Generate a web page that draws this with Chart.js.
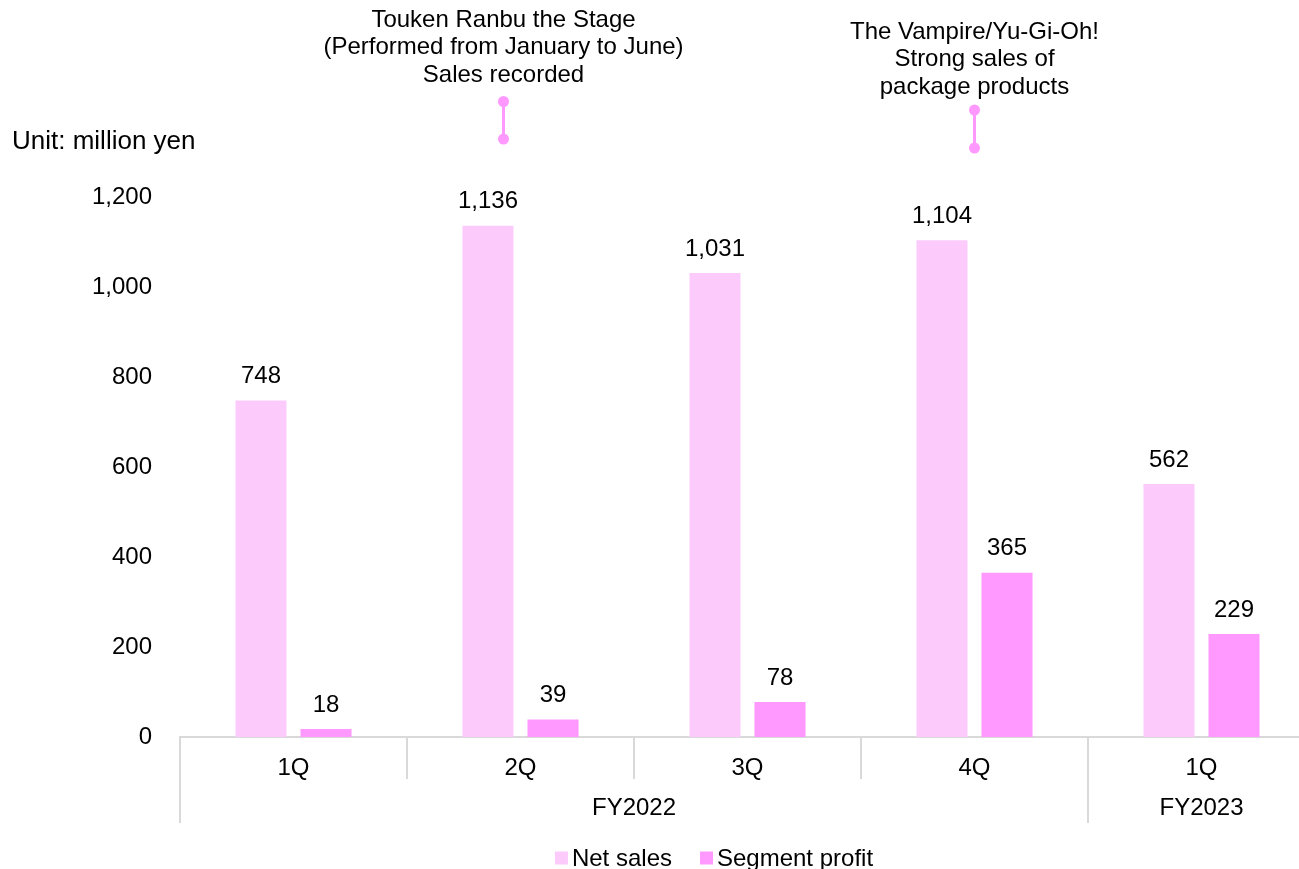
<!DOCTYPE html>
<html>
<head>
<meta charset="utf-8">
<script src="https://cdn.jsdelivr.net/npm/chart.js@4.4.1/dist/chart.umd.min.js"></script>
<style>
  html, body { margin: 0; padding: 0; background: #fff; overflow: hidden; }
  #wrap { width: 1315px; height: 869px; }
</style>
</head>
<body>
<div id="wrap"><canvas id="segChart" width="1315" height="869"></canvas></div>
<script>
// --- data ---
const quarters      = ['1Q', '2Q', '3Q', '4Q', '1Q'];
const fiscalYears   = ['FY2022', 'FY2022', 'FY2022', 'FY2022', 'FY2023'];
const netSales      = [748, 1136, 1031, 1104, 562];
const segmentProfit = [18, 39, 78, 365, 229];
const yTickValues   = [0, 200, 400, 600, 800, 1000, 1200];
const unitLabel     = 'Unit: million yen';
const noteTouken    = ['Touken Ranbu the Stage', '(Performed from January to June)', 'Sales recorded'];
const noteVampire   = ['The Vampire/Yu-Gi-Oh!', 'Strong sales of', 'package products'];

const FONT = '"Liberation Sans", Arial, sans-serif';
const TXT = '#000000';
const LINE = '#d9d9d9';
const PINK_LIGHT = '#fccbfc';
const PINK = '#ff99ff';

// Draws value labels, the grouped fiscal-year axis, notes and the legend
const decorations = {
  id: 'decorations',
  afterDraw(chart) {
    const { ctx, chartArea, scales } = chart;
    const x = scales.x;
    const bottom = chartArea.bottom;
    ctx.save();
    ctx.font = `24px ${FONT}`;
    ctx.fillStyle = TXT;
    ctx.textAlign = 'center';
    ctx.textBaseline = 'middle';

    // value labels above each bar
    chart.data.datasets.forEach((ds, di) => {
      chart.getDatasetMeta(di).data.forEach((bar, i) => {
        ctx.fillText(ds.data[i].toLocaleString('en-US'), bar.x, bar.y - 24);
      });
    });

    // category separators + fiscal year groups
    const half = (x.getPixelForValue(1) - x.getPixelForValue(0)) / 2;
    ctx.strokeStyle = LINE;
    ctx.lineWidth = 2;
    const vline = (px, len) => {
      ctx.beginPath(); ctx.moveTo(px, bottom); ctx.lineTo(px, bottom + len); ctx.stroke();
    };
    vline(x.getPixelForValue(0) - half, 86);
    for (let i = 1; i < quarters.length; i++) {
      const px = x.getPixelForValue(i) - half;
      vline(px, fiscalYears[i] === fiscalYears[i - 1] ? 42 : 86);
    }
    let start = 0;
    for (let i = 1; i <= fiscalYears.length; i++) {
      if (i === fiscalYears.length || fiscalYears[i] !== fiscalYears[start]) {
        const cx = (x.getPixelForValue(start) + x.getPixelForValue(i - 1)) / 2;
        ctx.fillText(fiscalYears[start], cx, bottom + 71);
        start = i;
      }
    }

    // unit label
    ctx.textAlign = 'left';
    ctx.font = `26px ${FONT}`;
    ctx.fillText(unitLabel, 12, 142);
    ctx.font = `24px ${FONT}`;

    // notes with pink connectors
    const note = (lines, cx, top, dotTop, dotBottom) => {
      ctx.textAlign = 'center';
      ctx.fillStyle = TXT;
      lines.forEach((t, k) => ctx.fillText(t, cx, top + k * 27.5));
      ctx.strokeStyle = PINK;
      ctx.fillStyle = PINK;
      ctx.lineWidth = 3;
      ctx.beginPath(); ctx.moveTo(cx, dotTop); ctx.lineTo(cx, dotBottom); ctx.stroke();
      [dotTop, dotBottom].forEach(dy => {
        ctx.beginPath(); ctx.arc(cx, dy, 5.5, 0, Math.PI * 2); ctx.fill();
      });
    };
    note(noteTouken, x.getPixelForValue(1) - 17, 20, 101.5, 139);
    note(noteVampire, x.getPixelForValue(3), 32, 110, 148);

    // legend
    ctx.font = `24px ${FONT}`;
    ctx.textAlign = 'left';
    const items = chart.data.datasets.map(ds => ({ label: ds.label, color: ds.backgroundColor }));
    const box = 13, gapIn = 4, gapOut = 28;
    const widths = items.map(it => box + gapIn + ctx.measureText(it.label).width);
    const total = widths.reduce((a, b) => a + b, 0) + gapOut * (items.length - 1);
    let lx = 714 - total / 2;
    const ly = 858;
    items.forEach((it, k) => {
      ctx.fillStyle = it.color;
      ctx.fillRect(lx, ly - box / 2, box, box);
      ctx.fillStyle = TXT;
      ctx.fillText(it.label, lx + box + gapIn, ly + 1);
      lx += widths[k] + gapOut;
    });
    ctx.restore();
  }
};

new Chart(document.getElementById('segChart'), {
  type: 'bar',
  data: {
    labels: quarters,
    datasets: [
      {
        label: 'Net sales',
        data: netSales,
        backgroundColor: PINK_LIGHT,
        categoryPercentage: 0.573,
        barPercentage: 0.785,
      },
      {
        label: 'Segment profit',
        data: segmentProfit,
        backgroundColor: PINK,
        categoryPercentage: 0.573,
        barPercentage: 0.785,
      },
    ],
  },
  options: {
    responsive: false,
    animation: false,
    devicePixelRatio: 1,
    layout: { padding: { left: 0, right: 0, top: 197, bottom: 42 } },
    plugins: {
      legend: { display: false },
      tooltip: { enabled: false },
    },
    scales: {
      x: {
        grid: { display: false },
        border: { color: LINE, width: 2 },
        ticks: { color: TXT, font: { family: FONT, size: 24 }, padding: 9 },
        afterFit: (s) => { s.height = 90; },
      },
      y: {
        min: 0,
        max: 1200,
        afterBuildTicks: (s) => { s.ticks = yTickValues.map(v => ({ value: v })); },
        grid: { display: false },
        border: { display: false },
        ticks: {
          color: TXT,
          font: { family: FONT, size: 24 },
          padding: 20,
          callback: (v) => v.toLocaleString('en-US'),
        },
        afterFit: (s) => { s.width = 180; },
      },
    },
  },
  plugins: [decorations],
});
</script>
</body>
</html>
